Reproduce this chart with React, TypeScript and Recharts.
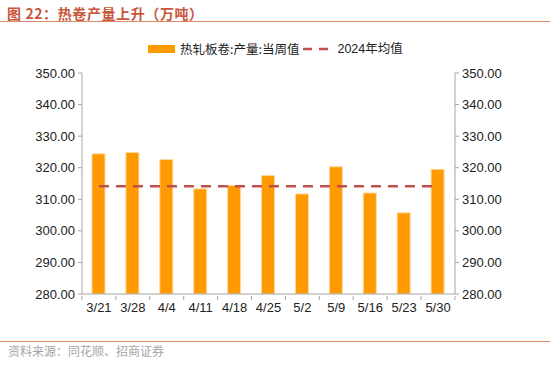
import { ComposedChart, Bar, Line, XAxis, YAxis } from 'recharts';

const weeks = ['3/21', '3/28', '4/4', '4/11', '4/18', '4/25', '5/2', '5/9', '5/16', '5/23', '5/30'];
const weeklyOutput = [324.4, 324.8, 322.6, 313.3, 314.4, 317.5, 311.7, 320.3, 312.0, 305.7, 319.5];
const avg2024 = 314.1;
const yTicks = [280, 290, 300, 310, 320, 330, 340, 350];

const data = weeks.map((w, i) => ({ week: w, output: weeklyOutput[i], avg: avg2024 }));

const NUM_FONT = '"Liberation Sans", Arial, sans-serif';
const CJK_FONT = '"Liberation Sans", "Noto Sans CJK SC", sans-serif';
const AXIS = '#A6A6A6';
const HALF_BAND = 17;

function WeekTick(props: any) {
  const { x, y, payload, index } = props;
  return (
    <g>
      <line x1={x - HALF_BAND} y1={y} x2={x - HALF_BAND} y2={y + 4} stroke={AXIS} />
      {index === weeks.length - 1 && (
        <line x1={x + HALF_BAND} y1={y} x2={x + HALF_BAND} y2={y + 4} stroke={AXIS} />
      )}
      <text x={x} y={y + 16} textAnchor="middle" fontSize={13} fill="#222" fontFamily={NUM_FONT}>
        {payload.value}
      </text>
    </g>
  );
}

export default function App() {
  return (
    <div style={{ position: 'absolute', left: 0, top: 0, width: 550, height: 391, background: '#fff', fontFamily: CJK_FONT }}>
      <div
        style={{
          position: 'absolute', left: 7, top: 4, fontSize: 14, fontWeight: 'bold', color: '#C8563B',
          fontFamily: '"Noto Sans CJK SC", sans-serif', lineHeight: '18px', letterSpacing: 0.6,
        }}
      >
        图 22：热卷产量上升（万吨）
      </div>
      <div style={{ position: 'absolute', left: 0, top: 21, width: 550, height: 1, background: '#D9886A' }} />

      <div style={{ position: 'absolute', left: 148, top: 40, display: 'flex', alignItems: 'center', fontSize: 12.5, color: '#222', fontFamily: '"Noto Sans CJK SC", sans-serif', lineHeight: '16px' }}>
        <span style={{ display: 'inline-block', width: 27, height: 8, background: '#FF9900', marginRight: 5 }} />
        <span>热轧板卷:产量:当周值</span>
        <svg width={32} height={10} style={{ marginLeft: 2, marginRight: 4 }}>
          <line x1={2} y1={5} x2={30} y2={5} stroke="#C0504D" strokeWidth={2.5} strokeDasharray="9 7" />
        </svg>
        <span><span style={{ fontFamily: NUM_FONT }}>2024</span>年均值</span>
      </div>

      <ComposedChart
        width={550}
        height={391}
        data={data}
        margin={{ top: 73, right: 0, left: 0, bottom: 67 }}
        style={{ position: 'absolute', left: 0, top: 0 }}
      >
        <XAxis
          dataKey="week"
          height={30}
          stroke={AXIS}
          tickLine={false}
          tickSize={0}
          tick={<WeekTick />}
          interval={0}
        />
        <YAxis
          yAxisId="left"
          width={82}
          domain={[280, 350]}
          ticks={yTicks}
          tickFormatter={(v: number) => v.toFixed(2)}
          stroke={AXIS}
          tickSize={4}
          tickMargin={3}
          tick={{ fill: '#222', fontSize: 13, fontFamily: NUM_FONT }}
          allowDataOverflow
        />
        <YAxis
          yAxisId="right"
          orientation="right"
          width={95}
          domain={[280, 350]}
          ticks={yTicks}
          tickFormatter={(v: number) => v.toFixed(2)}
          stroke={AXIS}
          tickSize={4}
          tickMargin={3}
          tick={{ fill: '#222', fontSize: 13, fontFamily: NUM_FONT }}
          allowDataOverflow
        />
        <Bar
          yAxisId="left"
          dataKey="output"
          fill="#FF9900"
          stroke="#FFD9A0"
          strokeWidth={1}
          barSize={13}
          isAnimationActive={false}
        />
        <Line
          yAxisId="left"
          dataKey="avg"
          stroke="#C0504D"
          strokeWidth={2.5}
          strokeDasharray="10 7"
          dot={false}
          activeDot={false}
          isAnimationActive={false}
        />
      </ComposedChart>

      <div style={{ position: 'absolute', left: 0, top: 341, width: 550, height: 1, background: '#D9886A' }} />
      <div style={{ position: 'absolute', left: 8, top: 343, fontSize: 12, color: '#A6A6A6', fontFamily: '"Noto Sans CJK SC", sans-serif', lineHeight: '16px' }}>
        资料来源：同花顺、招商证券
      </div>
    </div>
  );
}
